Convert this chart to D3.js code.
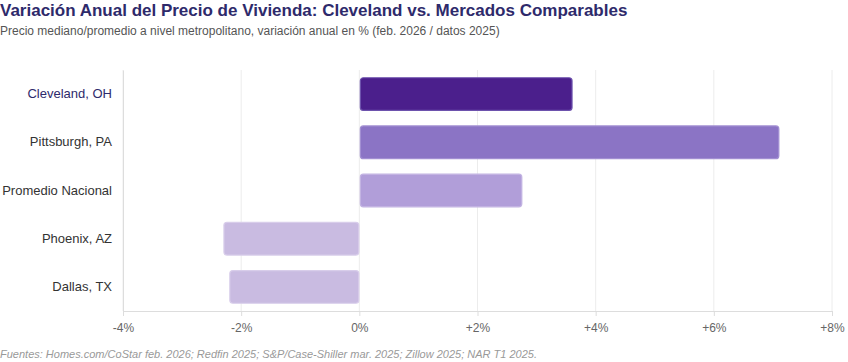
<!DOCTYPE html>
<html>
<head>
<meta charset="utf-8">
<script src="https://cdn.jsdelivr.net/npm/d3@7"></script>
<style>
  body { margin: 0; background: #fff; font-family: "Liberation Sans", Arial, sans-serif; }
</style>
</head>
<body>
<div id="wrapper"></div>
<script>
const markets = ["Cleveland, OH", "Pittsburgh, PA", "Promedio Nacional", "Phoenix, AZ", "Dallas, TX"];
const changes = [3.6, 7.1, 2.75, -2.3, -2.2];
const barColors = ["#4b1f8c", "#8b74c5", "#b19ed9", "#c9bbe1", "#c9bbe1"];
const barStrokes = ["#6d52ad", "#a28fd2", "#c2b3e2", "#d8cdea", "#d8cdea"];
const tickValues = [-4, -2, 0, 2, 4, 6, 8];

const dimensions = {
  width: 848,
  height: 362,
  margin: { top: 70, right: 16, bottom: 51, left: 123 }
};
dimensions.boundedWidth = 832 - dimensions.margin.left;
dimensions.boundedHeight = dimensions.height - dimensions.margin.top - dimensions.margin.bottom;

const svg = d3.select("#wrapper")
  .append("svg")
    .attr("width", dimensions.width)
    .attr("height", dimensions.height)
    .style("font-family", "'Liberation Sans', Arial, sans-serif");

// titles
svg.append("text")
  .attr("x", 0).attr("y", 16)
  .attr("font-size", 17).attr("font-weight", "bold")
  .attr("fill", "#2e2a6b")
  .text("Variación Anual del Precio de Vivienda: Cleveland vs. Mercados Comparables");
svg.append("text")
  .attr("x", 0).attr("y", 35)
  .attr("font-size", 12).attr("fill", "#555")
  .text("Precio mediano/promedio a nivel metropolitano, variación anual en % (feb. 2026 / datos 2025)");

const bounds = svg.append("g")
  .attr("transform", "translate(" + dimensions.margin.left + ", " + dimensions.margin.top + ")");

// Scales
const xScale = d3.scaleLinear()
  .domain([-4, 8])
  .range([0, dimensions.boundedWidth]);
const yScale = d3.scaleBand()
  .domain(markets)
  .range([0, dimensions.boundedHeight])
  .paddingInner(0.3)
  .paddingOuter(0.15);

// gridlines
bounds.append("g")
  .selectAll("line")
  .data(tickValues)
  .join("line")
    .attr("x1", d => xScale(d))
    .attr("x2", d => xScale(d))
    .attr("y1", 0)
    .attr("y2", dimensions.boundedHeight)
    .attr("stroke", "#ececec")
    .attr("stroke-width", 1);

// x axis
const xAxis = d3.axisBottom(xScale)
  .tickValues(tickValues)
  .tickSize(5)
  .tickFormat(d => (d > 0 ? "+" : "") + d + "%");
const xAxisGroup = bounds.append("g")
  .attr("transform", "translate(0, " + dimensions.boundedHeight + ")")
  .call(xAxis);
xAxisGroup.select(".domain").attr("stroke", "#ddd");
xAxisGroup.selectAll(".tick line").attr("stroke", "#ddd");
xAxisGroup.selectAll(".tick text")
  .attr("y", 12)
  .attr("font-size", 12)
  .attr("fill", "#666")
  .attr("font-family", "'Liberation Sans', Arial, sans-serif");

// y axis
const yAxis = d3.axisLeft(yScale).tickSize(0).tickPadding(11);
const yAxisGroup = bounds.append("g").call(yAxis);
yAxisGroup.select(".domain").attr("stroke", "#ddd");
yAxisGroup.selectAll(".tick text")
  .attr("font-size", 13)
  .attr("font-family", "'Liberation Sans', Arial, sans-serif")
  .attr("fill", d => d === "Cleveland, OH" ? "#2e2a6b" : "#333");

// bars
const rows = markets.map((m, i) => ({ market: m, value: changes[i], fill: barColors[i], stroke: barStrokes[i] }));
bounds.append("g")
  .selectAll("rect")
  .data(rows)
  .join("rect")
    .attr("x", d => d.value >= 0 ? xScale(0) + 1 : xScale(d.value) + 0.5)
    .attr("y", d => yScale(d.market) + 0.5)
    .attr("width", d => Math.abs(xScale(d.value) - xScale(0)) - 1)
    .attr("height", yScale.bandwidth() - 1)
    .attr("rx", 3)
    .attr("fill", d => d.fill)
    .attr("stroke", d => d.stroke)
    .attr("stroke-width", 1.2);

// footer
svg.append("text")
  .attr("x", 0).attr("y", 358)
  .attr("font-size", 11).attr("font-style", "italic")
  .attr("fill", "#999")
  .text("Fuentes: Homes.com/CoStar feb. 2026; Redfin 2025; S&P/Case-Shiller mar. 2025; Zillow 2025; NAR T1 2025.");
</script>
</body>
</html>
